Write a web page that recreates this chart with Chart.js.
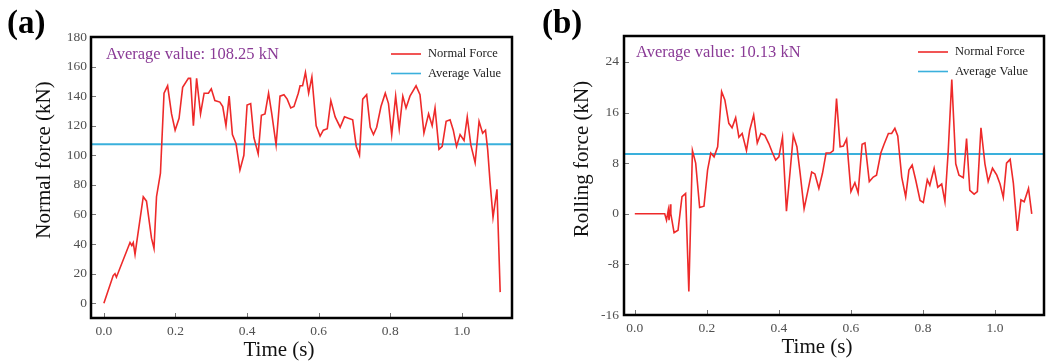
<!DOCTYPE html>
<html><head><meta charset="utf-8">
<script src="https://cdn.jsdelivr.net/npm/chart.js@4.4.1/dist/chart.umd.min.js"></script>
<style>
html,body{margin:0;padding:0;background:#fff;}
.wrap{position:absolute;top:0;width:525px;height:363px;}
</style></head>
<body>
<div class="wrap" style="left:0"><canvas id="ca" width="525" height="363"></canvas></div>
<div class="wrap" style="left:525px"><canvas id="cb" width="525" height="363"></canvas></div>
<script>
// ---- data (a) ----
const timeA = [0,0.026,0.031,0.035,0.073,0.078,0.082,0.087,0.091,0.11,
0.119,0.133,0.14,0.147,0.158,0.168,0.178,0.189,0.199,0.21,
0.22,0.236,0.242,0.25,0.259,0.27,0.28,0.292,0.3,0.31,
0.324,0.332,0.341,0.35,0.359,0.369,0.38,0.391,0.4,0.41,
0.419,0.431,0.44,0.45,0.46,0.469,0.481,0.492,0.503,0.512,
0.522,0.531,0.543,0.548,0.555,0.563,0.572,0.581,0.593,0.604,
0.613,0.624,0.634,0.646,0.66,0.672,0.683,0.695,0.705,0.714,
0.723,0.734,0.744,0.753,0.762,0.774,0.786,0.795,0.804,0.815,
0.825,0.835,0.844,0.855,0.872,0.883,0.894,0.907,0.917,0.925,
0.936,0.945,0.956,0.967,0.976,0.985,0.995,1.006,1.015,1.025,
1.037,1.048,1.058,1.066,1.072,1.079,1.087,1.098,1.107];
const normalForce = [0,18.7,20,17.6,41,39,41,33,40,72,
69,44,37,72,88,142,147,128,117,125,
146,152,152,120,152,128,142,142,145,137,
136,133,120,140,114,108,90,100,134,135,
112,101,127,128,142,128,107,140,141,138,
132,133,142,147,147,156,142,153,120,113,
117,118,137,126,119,126,125,124,106,100,
138,141,119,114,119,133,142,135,114,140,
118,140,132,140,147,141,115,128,120,132,
104,106,123,124,117,106,114,110,126,107,
95,123,115,117,104,81,58,77,7.5];
const avgLineA = 107.5;
const avgLabelA = "Average value: 108.25 kN";
const yTicksA = [0,20,40,60,80,100,120,140,160,180];

// ---- data (b) ----
const timeB = [0,0.083,0.088,0.093,0.095,0.099,0.1,0.109,0.12,0.131,
0.141,0.15,0.16,0.169,0.18,0.192,0.202,0.211,0.22,0.23,
0.241,0.25,0.261,0.27,0.28,0.289,0.298,0.31,0.319,0.33,
0.34,0.35,0.361,0.372,0.381,0.391,0.4,0.41,0.421,0.431,
0.44,0.45,0.459,0.47,0.48,0.491,0.5,0.511,0.521,0.531,
0.542,0.551,0.56,0.57,0.579,0.588,0.6,0.611,0.62,0.631,
0.639,0.651,0.662,0.671,0.683,0.692,0.704,0.713,0.722,0.73,
0.741,0.752,0.761,0.77,0.78,0.792,0.801,0.812,0.819,0.831,
0.841,0.852,0.861,0.87,0.88,0.891,0.9,0.912,0.921,0.93,
0.942,0.951,0.961,0.972,0.981,0.993,1.005,1.014,1.023,1.032,
1.042,1.051,1.062,1.072,1.081,1.093,1.102];
const rollingForce = [0,0,-1,0.6,-1,1.5,0,-3,-2.6,2.7,
3.2,-12.3,10,8,1,1.2,6.9,9.6,9,10.6,
19.3,18,14.3,13.6,15.2,12.1,12.7,10,13.2,15.6,
11.2,12.7,12.4,11.1,9.8,8.5,9,12.1,0.4,6.6,
12.4,10.6,6.4,0.8,3.5,6.6,6.3,4,6.4,9.6,
9.6,10,18.2,10.6,10.7,11.8,3.5,4.9,3.3,11,
11.2,5.1,5.8,6.1,9.6,11,12.7,12.7,13.5,12.3,
5.8,2.7,6.9,7.7,5.3,2.1,1.8,5.4,4.5,7.2,
4.2,4.7,1.9,9.8,21.2,7.9,6.1,5.7,11.9,3.7,
3.1,3.5,13.6,7.9,5.1,7.2,6.1,4.7,2.6,8,
8.6,4.8,-2.7,2.2,1.9,4,0];
const avgLineB = 9.43;
const avgLabelB = "Average value: 10.13 kN";
const yTicksB = [-16,-8,0,8,16,24];

const xTicks = [0,0.2,0.4,0.6,0.8,1.0];
const seriesLabels = ["Normal Force","Average Value"];

const RED = '#ee2a2a', BLUE = '#3ab0dc', PURPLE = '#8a3a96';
const SERIF = '"Liberation Serif","DejaVu Serif",serif';

function decorPlugin(cfg){
  return {
    id:'decor',
    afterDraw(chart){
      const ctx = chart.ctx, a = chart.chartArea;
      const xs = chart.scales.x, ys = chart.scales.y;
      ctx.save();
      // inward ticks
      ctx.strokeStyle = '#777'; ctx.lineWidth = 1;
      ys.ticks.forEach(t=>{const y=Math.round(ys.getPixelForValue(t.value))+0.5;
        ctx.beginPath();ctx.moveTo(a.left,y);ctx.lineTo(a.left+5,y);ctx.stroke();});
      xs.ticks.forEach(t=>{const x=Math.round(xs.getPixelForValue(t.value))+0.5;
        ctx.beginPath();ctx.moveTo(x,a.bottom);ctx.lineTo(x,a.bottom-5);ctx.stroke();});
      // frame
      ctx.strokeStyle = '#000'; ctx.lineWidth = 2.5;
      ctx.strokeRect(a.left, a.top, a.right-a.left, a.bottom-a.top);
      // axis titles
      ctx.fillStyle = '#111'; ctx.font = '21px '+SERIF;
      ctx.textAlign = 'center'; ctx.textBaseline = 'middle';
      ctx.fillText(cfg.xTitle, cfg.xtX, cfg.xtY);
      ctx.save(); ctx.translate(cfg.ytX, cfg.ytY); ctx.rotate(-Math.PI/2);
      ctx.fillText(cfg.yTitle, 0, 0); ctx.restore();
      // annotation
      ctx.fillStyle = PURPLE; ctx.font = '16.5px '+SERIF;
      ctx.textBaseline = 'middle'; ctx.textAlign='left';
      ctx.fillText(cfg.note, a.left+cfg.noteDx, a.top+cfg.noteDy);
      // legend
      ctx.font = '12.5px '+SERIF; ctx.fillStyle = '#222';
      chart.data.datasets.forEach((ds,i)=>{
        const y = a.top + cfg.legTop + i*19.5;
        ctx.strokeStyle = ds.borderColor; ctx.lineWidth = 1.6;
        ctx.beginPath(); ctx.moveTo(a.right+cfg.legX0,y); ctx.lineTo(a.right+cfg.legX0+30,y); ctx.stroke();
        ctx.fillText(ds.label, a.right+cfg.legX0+37, y);
      });
      // panel letter
      ctx.fillStyle = '#000'; ctx.font = 'bold 33px '+SERIF; ctx.textBaseline='alphabetic';
      ctx.fillText(cfg.letter, cfg.letterX, 33);
      ctx.restore();
    }
  };
}

function makeChart(id, times, vals, avg, yTicks, yMin, yMax, xMin, xMax, lay, cfg){
  const pts = times.map((t,i)=>({x:t,y:vals[i]}));
  return new Chart(document.getElementById(id), {
    type:'line',
    data:{datasets:[
      {label:seriesLabels[0], data:pts, borderColor:RED, borderWidth:1.6, pointRadius:0, tension:0, fill:false},
      {label:seriesLabels[1], data:[{x:xMin,y:avg},{x:xMax,y:avg}], borderColor:BLUE, borderWidth:2, pointRadius:0, tension:0, fill:false}
    ]},
    options:{
      responsive:false, animation:false, events:[],
      layout:{padding:{left:0, top:lay.top, right:lay.right, bottom:0}},
      plugins:{legend:{display:false}, tooltip:{enabled:false}},
      scales:{
        x:{type:'linear', min:xMin, max:xMax,
          afterBuildTicks:s=>{s.ticks = xTicks.map(v=>({value:v}));},
          afterFit:s=>{s.height = lay.xh;},
          grid:{display:false, drawTicks:false}, border:{display:false},
          ticks:{padding:lay.xpad, color:'#505050', font:{family:SERIF,size:13.5}, callback:v=>Number(v).toFixed(1), maxRotation:0, autoSkip:false},
          title:{display:false}
        },
        y:{type:'linear', min:yMin, max:yMax,
          afterBuildTicks:s=>{s.ticks = yTicks.map(v=>({value:v}));},
          afterFit:s=>{s.width = lay.yw;},
          grid:{display:false, drawTicks:false}, border:{display:false},
          ticks:{padding:lay.ypad, color:'#505050', font:{family:SERIF,size:13.5}, autoSkip:false},
          title:{display:false}
        }
      }
    },
    plugins:[decorPlugin(cfg)]
  });
}

makeChart('ca', timeA, normalForce, avgLineA, yTicksA, -10, 180, -0.036, 1.14,
  {top:37, right:13, xh:45, yw:91, xpad:5, ypad:4},
  {note:avgLabelA, noteDx:15, noteDy:18, legTop:17, legX0:-121, letter:'(a)', letterX:7,
   xTitle:'Time (s)', xtX:279, xtY:350, yTitle:'Normal force (kN)', ytX:44, ytY:160});
makeChart('cb', timeB, rollingForce, avgLineB, yTicksB, -16, 28.1, -0.03, 1.136,
  {top:36, right:6, xh:48, yw:99, xpad:5, ypad:5},
  {note:avgLabelB, noteDx:12, noteDy:17, legTop:16, legX0:-126, letter:'(b)', letterX:17,
   xTitle:'Time (s)', xtX:292, xtY:347, yTitle:'Rolling force (kN)', ytX:57, ytY:159});
</script>
</body></html>
